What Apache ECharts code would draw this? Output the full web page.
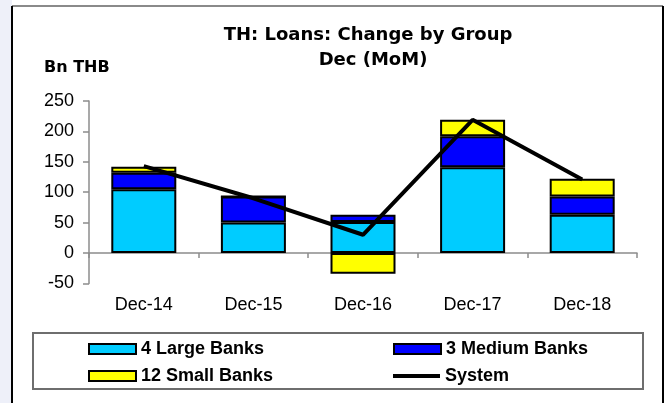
<!DOCTYPE html>
<html>
<head>
<meta charset="utf-8">
<script src="https://cdn.jsdelivr.net/npm/echarts@6/dist/echarts.min.js"></script>
<style>
  html, body { margin: 0; padding: 0; background: #fff; }
  #chart { width: 668px; height: 403px; }
</style>
</head>
<body>
<div id="chart"></div>
<script>
// data
var categories = ['Dec-14', 'Dec-15', 'Dec-16', 'Dec-17', 'Dec-18'];
var largeBanks = [105, 50, 51, 141, 63];
var mediumBanks = [27, 43, 12, 51, 30];
var smallBanks = [10, 0, -34, 27, 29];
var systemTotal = [143, 90, 30, 219, 121];
var yMin = -50, yMax = 250, yStep = 50;

var labelFont = "'Liberation Sans', Arial, sans-serif";

var chart = echarts.init(document.getElementById('chart'));

function legendAt(name, left, top, iconH) {
    return {
        data: [{ name: name, icon: 'rect' }],
        left: left,
        top: top,
        padding: 0,
        itemWidth: 47,
        itemHeight: iconH,
        selectedMode: false,
        textStyle: { fontFamily: labelFont, fontSize: 18, fontWeight: 'bold', color: '#000' }
    };
}

var option = {
    backgroundColor: '#fff',
    animation: false,
    graphic: [
        // lavender strip left of the frame
        { type: 'rect', shape: { x: 0, y: 0, width: 12, height: 403 }, style: { fill: '#eef0f9' }, silent: true },
        // frame
        { type: 'line', shape: { x1: 12, y1: 6, x2: 663, y2: 6 }, style: { stroke: '#8a8a8a', lineWidth: 2 } },
        { type: 'line', shape: { x1: 12, y1: 6, x2: 12, y2: 403 }, style: { stroke: '#000', lineWidth: 2 } },
        { type: 'line', shape: { x1: 663, y1: 6, x2: 663, y2: 403 }, style: { stroke: '#000', lineWidth: 2 } },
        // titles
        { type: 'text', x: 368, y: 35, style: { text: 'TH: Loans: Change by Group', fill: '#000',
            font: "bold 18px 'DejaVu Sans', sans-serif", textAlign: 'center', textVerticalAlign: 'middle' } },
        { type: 'text', x: 373, y: 60, style: { text: 'Dec (MoM)', fill: '#000',
            font: "bold 18px 'DejaVu Sans', sans-serif", textAlign: 'center', textVerticalAlign: 'middle' } },
        { type: 'text', x: 44, y: 68, style: { text: 'Bn THB', fill: '#000',
            font: "bold 16px 'DejaVu Sans', sans-serif", textAlign: 'left', textVerticalAlign: 'middle' } },
        // legend box
        { type: 'rect', shape: { x: 33, y: 333, width: 610, height: 56 },
            style: { fill: 'none', stroke: '#6e6e6e', lineWidth: 2 }, silent: true }
    ],
    legend: [
        legendAt('4 Large Banks', 88, 340, 10),
        legendAt('3 Medium Banks', 393, 340, 10),
        legendAt('12 Small Banks', 88, 367, 10),
        legendAt('System', 393, 367, 4)
    ],
    grid: { left: 89, right: 31, top: 101, bottom: 119.6, containLabel: false },
    xAxis: [
        {
            type: 'category',
            data: categories,
            axisLine: { onZero: true, lineStyle: { color: '#8c8c8c', width: 1.5 } },
            axisTick: { show: true, interval: 0, length: 5, lineStyle: { color: '#8c8c8c', width: 1.5 } },
            axisLabel: { show: false }
        },
        {
            type: 'category',
            data: categories,
            position: 'bottom',
            axisLine: { show: false, onZero: false },
            axisTick: { show: false },
            axisLabel: { margin: 13, fontFamily: labelFont, fontSize: 18, color: '#000' }
        }
    ],
    yAxis: {
        type: 'value',
        min: yMin,
        max: yMax,
        interval: yStep,
        splitLine: { show: false },
        axisLine: { show: true, lineStyle: { color: '#8c8c8c', width: 1.5 } },
        axisTick: { show: true, length: 6, lineStyle: { color: '#8c8c8c', width: 1.5 } },
        axisLabel: { margin: 15, fontFamily: labelFont, fontSize: 18, color: '#000' }
    },
    series: [
        {
            name: '4 Large Banks', type: 'bar', stack: 'banks', barWidth: 65,
            data: largeBanks,
            itemStyle: { color: '#00ccff', borderColor: '#000', borderWidth: 2 }
        },
        {
            name: '3 Medium Banks', type: 'bar', stack: 'banks', barWidth: 65,
            data: mediumBanks,
            itemStyle: { color: '#0000ff', borderColor: '#000', borderWidth: 2 }
        },
        {
            name: '12 Small Banks', type: 'bar', stack: 'banks', barWidth: 65,
            data: smallBanks,
            itemStyle: { color: '#ffff00', borderColor: '#000', borderWidth: 2 }
        },
        {
            name: 'System', type: 'line', data: systemTotal,
            symbol: 'none', z: 5,
            lineStyle: { color: '#000', width: 4 },
            itemStyle: { color: '#000' }
        }
    ]
};

chart.setOption(option);
window.addEventListener('resize', chart.resize);
</script>
</body>
</html>
